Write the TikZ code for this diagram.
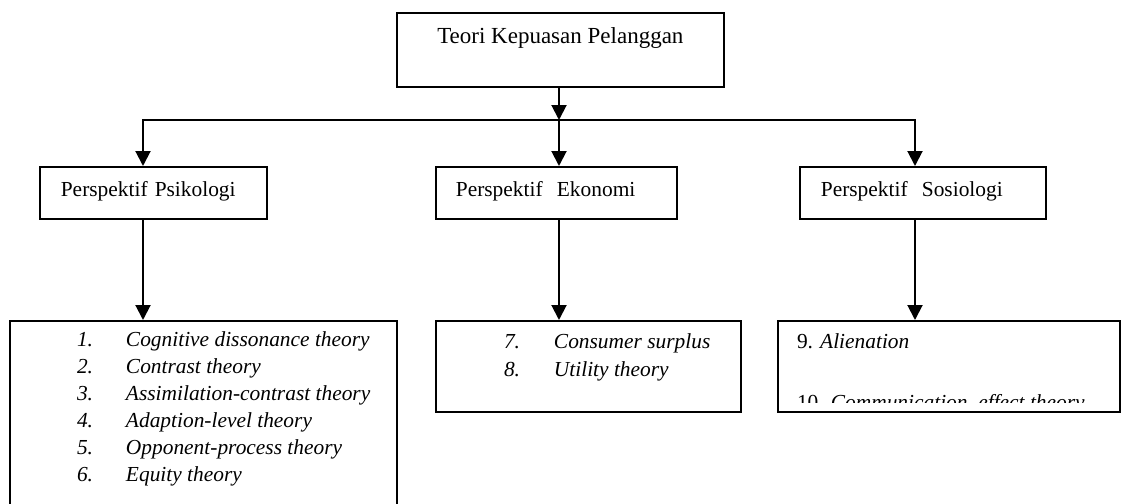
\documentclass[tikz,border=0pt]{standalone}
\usepackage{fontspec}
\setmainfont{Liberation Serif}
\usetikzlibrary{arrows.meta}

\begin{document}
\begin{tikzpicture}[x=0.5pt,y=-0.5pt,>={Triangle[width=7.5pt,length=7.5pt]},line width=1pt,
                title node/.style={draw,line width=0.85pt,anchor=north west,inner xsep=4pt,inner ysep=0pt,
                  minimum width=163.5pt,text height=15.5pt,text depth=21.5pt,font=\fontsize{11.5}{14}\selectfont},
                persp node/.style={draw,line width=0.85pt,anchor=north west,inner xsep=10.5pt,inner ysep=0pt,
                  align=left,text height=15pt,text depth=11pt,font=\fontsize{10.7}{14}\selectfont},
                list node/.style={draw,line width=0.85pt,anchor=north west,inner sep=0pt},
                item text/.style={anchor=base west,inner sep=0pt,font=\fontsize{10.7}{14}\selectfont}]
                \useasboundingbox (0,0) rectangle (1121,504);

                \node[title node] (teori) at (396,12) {Teori Kepuasan Pelanggan};

                \node[persp node,text width=92.5pt] (psi) at (39,166) {Perspektif Psikologi};
                \node[persp node,text width=100.5pt,inner xsep=10pt] (eko) at (435,166) {Perspektif~ Ekonomi};
                \node[persp node,text width=102pt] (sosi) at (799,166) {Perspektif~ Sosiologi};

                \node[list node,minimum width=193.5pt,minimum height=100pt] (psilist) at (9,320) {};
                \node[list node,minimum width=152.5pt,minimum height=45.5pt] (ekolist) at (435,320) {};
                \node[list node,minimum width=171pt,minimum height=45.5pt] (sosilist) at (777,320) {};

                % isi tiap perspektif
                \node[item text,font=\fontsize{10.7}{13.5}\selectfont] (psiitems) at (76,346) {\itshape
                  \begin{tabular}[t]{@{}p{24.5pt}@{}l@{}}
                    1. & Cognitive dissonance theory\\
                    2. & Contrast theory\\
                    3. & Assimilation-contrast theory\\
                    4. & Adaption-level theory\\
                    5. & Opponent-process theory\\
                    6. & Equity theory
                  \end{tabular}};
                \node[item text] (ekoitems) at (503,348) {\itshape
                  \begin{tabular}[t]{@{}p{25pt}@{}l@{}}
                    7. & Consumer surplus\\
                    8. & Utility theory
                  \end{tabular}};
                \begin{scope}
                  \clip (777,320) rectangle (1119,402);
                  \node[item text] (sosiitems) at (796,348) {%
                    \begin{tabular}[t]{@{}l@{}}
                      9. \textit{Alienation}\\[16.5pt]
                      10. \textit{Communication~ effect theory}
                    \end{tabular}};
                \end{scope}

                \coordinate (split) at (559,120);
                \coordinate (lend) at (143,120);
                \coordinate (rend) at (915,120);

                \draw[->] (split |- teori.south) -- (split);
                \draw[->] (split) -| (lend |- psi.north);
                \draw[->] (split) -| (rend |- sosi.north);
                \draw[->] (split) -- (split |- eko.north);

                \draw[->] (lend |- psi.south) -- (lend |- psilist.north);
                \draw[->] (split |- eko.south) -- (split |- ekolist.north);
                \draw[->] (rend |- sosi.south) -- (rend |- sosilist.north);
\end{tikzpicture}
\end{document}
